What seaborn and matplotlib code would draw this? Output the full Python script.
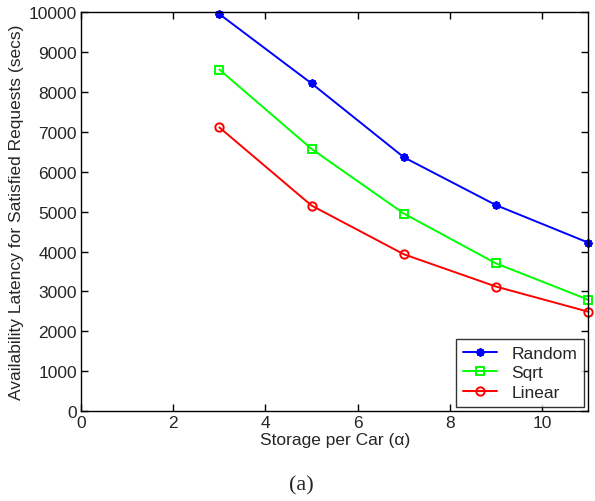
import matplotlib
matplotlib.use("Agg")
import matplotlib.pyplot as plt
import seaborn as sns
import pandas as pd
from matplotlib.lines import Line2D

storage = [3, 5, 7, 9, 11]
random_vals = [9950, 8210, 6360, 5160, 4220]
sqrt_vals = [8560, 6570, 4950, 3700, 2790]
linear_vals = [7110, 5150, 3930, 3120, 2490]
series_names = ["Random", "Sqrt", "Linear"]
x_ticks = [0, 2, 4, 6, 8, 10]
y_ticks = list(range(0, 10001, 1000))

rows = []
for name, vals in zip(series_names, [random_vals, sqrt_vals, linear_vals]):
    for x, y in zip(storage, vals):
        rows.append({"Storage": x, "Latency": y, "Scheme": name})
df = pd.DataFrame(rows)

sns.set_style("ticks")
plt.rcParams["font.family"] = ["Liberation Sans", "DejaVu Sans"]

FS = 12.5
fig = plt.figure(figsize=(5.95, 5.02), dpi=100)
ax = fig.add_axes([0.136, 0.179, 0.853, 0.795])

palette = {"Random": (0, 0, 1), "Sqrt": (0, 1, 0), "Linear": (1, 0, 0)}
ASTER = (8, 2, 0)
markers = {"Random": "*", "Sqrt": "s", "Linear": "o"}
sns.lineplot(data=df, x="Storage", y="Latency", hue="Scheme", style="Scheme",
             palette=palette, markers=markers, dashes=False, ax=ax,
             linewidth=1.4, legend=False)
for line in ax.lines:
    c = line.get_color()
    if line.get_marker() == "*":
        line.set_marker(ASTER)
    line.set_markeredgecolor(c)
    line.set_markerfacecolor("none")
    line.set_markeredgewidth(1.4)
    line.set_markersize(6)
    line.set_clip_on(False)

ax.set_xlim(0, 11)
ax.set_ylim(0, 10000)
ax.set_xticks(x_ticks)
ax.set_yticks(y_ticks)
ax.tick_params(direction="in", length=5, labelsize=FS, top=True, right=True,
               labeltop=False, labelright=False, color="black", width=1, pad=3)
for s in ax.spines.values():
    s.set_visible(True)
    s.set_linewidth(1)
    s.set_color("black")
ax.set_xlabel("Storage per Car (α)", fontsize=FS, labelpad=1)
ax.set_ylabel("Availability Latency for Satisfied Requests (secs)", fontsize=FS, labelpad=3)

legend_markers = {"Random": ASTER, "Sqrt": "s", "Linear": "o"}
handles = []
for name in series_names:
    c = palette[name]
    handles.append(Line2D([0], [0], color=c, marker=legend_markers[name], lw=1.4, markersize=6,
                          markerfacecolor="none", markeredgecolor=c, markeredgewidth=1.4))
leg = ax.legend(handles, series_names, loc="lower right", fontsize=FS, frameon=True,
                fancybox=False, edgecolor="black", borderaxespad=0.25, handlelength=2.0,
                labelspacing=0.25, borderpad=0.4, handletextpad=0.8)
leg.get_frame().set_linewidth(1)

fig.text(0.507, 0.012, "(a)", ha="center", va="bottom", fontsize=16,
         family=["Liberation Serif", "DejaVu Serif"])

fig.savefig("out.png", dpi=100)
